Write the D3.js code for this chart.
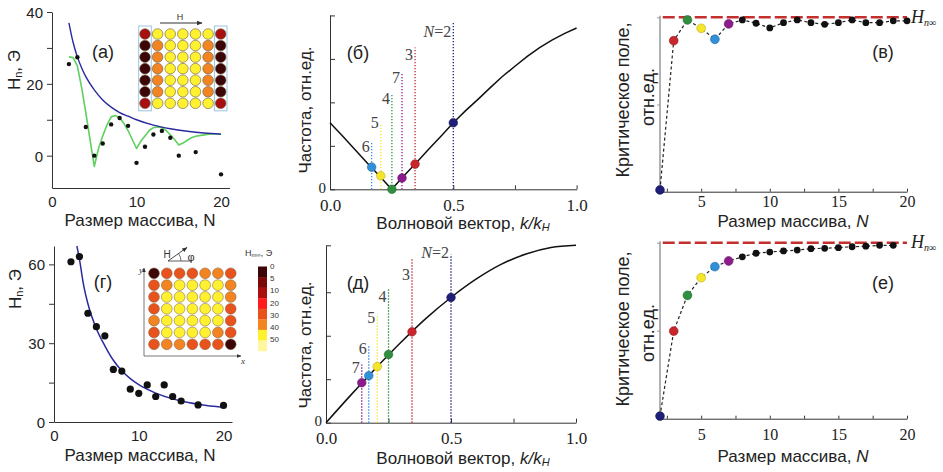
<!DOCTYPE html>
<html><head><meta charset="utf-8">
<script src="https://cdn.jsdelivr.net/npm/d3@7"></script>
<style>body{margin:0;background:#fff} svg{display:block}</style>
</head><body><svg id="c" width="943" height="472"></svg>
<script>
// ---------- DATA ----------
// (a) square array, field along x
const sizesA = [2,3,4,5,6,7,8,9,10,11,12,13,14,15,17,20];
const hnA    = [25.5,27.4,8.0,0,3.4,8.7,10.5,8.3,-2,2.5,5.9,6.9,5,0,1,-5.2];
const fitAN  = [2,2.5,3,3.5,4,5,6,7,8,9,10,12,14,16,18,20];
const fitAH  = [37,31.5,27.5,24.5,22,18.3,15.5,13.5,12,11,10,8.5,7.5,6.8,6.3,6.0];
const simAN  = [2,2.5,3,3.5,4,4.5,5,5.5,6,6.5,7,7.5,8,8.5,9,9.5,10,10.5,11,11.5,12,12.5,13,13.5,14,14.5,15,15.5,16,16.5,17,18,19,20];
const simAH  = [27.5,27.3,25,19,12,4.5,-3,2,5.5,8.5,10.8,11.2,10.5,9,7,4.5,2,4,5.5,7,7.8,8,7.8,7,5.8,4.5,3,3.5,4.3,5,5.4,5.8,6.1,6];
// (г) square array, field along diagonal
const sizesG = [2,3,4,5,6,7,8,9,10,11,12,13,14,15,17,20];
const hnG    = [61,63,41.4,36.3,32.8,20,19.4,12.5,10.9,14.1,9.7,14.1,9.7,8,6.5,6.3];
const fitGN  = [2.7,3,3.5,4,5,6,7,8,9,10,12,14,16,18,20];
const fitGH  = [67,62,52,45,35.5,29,23.5,19.5,16.5,14.2,11,8.8,7.3,6.3,5.6];
// inset colour maps (H_m∞, Э), rows top→bottom
const gridA = [
  [7,45,45,45,45,45,7],
  [0,35,45,45,45,35,0],
  [0,35,45,45,45,35,0],
  [0,35,45,45,45,35,0],
  [0,35,45,45,45,35,0],
  [0,35,45,45,45,35,0],
  [7,45,45,45,45,45,7]];
const gridG = [
  [0,25,25,25,35,35,25],
  [25,35,45,45,45,45,35],
  [25,45,45,45,45,45,35],
  [25,45,45,45,45,45,25],
  [35,45,45,45,45,45,25],
  [25,45,45,45,45,35,25],
  [25,35,35,25,25,25,0]];
const hmThresholds = [2.5,5,10,20,30,40,50];
const hmColors = ["#3d0606","#7a0a0a","#a81010","#ff1c1c","#e8521c","#f28422","#fff030","#fff7a0"];
const hmTickLabels = ["0","5","10","20","30","40","50"];
// (б) dispersion, field along x
const kB = [0,0.05,0.1,0.15,0.2,0.25,0.3,0.35,0.4,0.45,0.5,0.55,0.6,0.65,0.7,0.75,0.8,0.85,0.9,0.95,1.0];
const wB = [1.53,1.23,0.92,0.61,0.31,0,0.31,0.61,0.92,1.22,1.53,1.81,2.07,2.34,2.6,2.83,3.06,3.26,3.43,3.58,3.71];
// (д) dispersion, diagonal field
const kD = [0,0.1,0.2,0.3,0.4,0.5,0.6,0.7,0.8,0.9,1.0];
const wD = [0,0.64,1.26,1.85,2.40,2.88,3.30,3.64,3.88,4.03,4.08];
// modes N = 2..7
const modeN      = ["N=2","3","4","5","6","7"];
const modeColors = ["#1f1f78","#c8262c","#2f8f3f","#f5e62a","#3090d8","#8c1c8c"];
const kModesB = [0.5,0.345,0.251,0.206,0.169,0.292];
const wModesB = [1.53,0.58,0,0.31,0.51,0.26];
const topModesB = [3.83,3.26,2.19,1.49,1.1,2.68];
const kModesD = [0.5,0.344,0.25,0.205,0.171,0.143];
const wModesD = [2.88,2.09,1.57,1.29,1.08,0.92];
const topModesD = [3.87,3.76,3.07,2.49,1.76,1.34];
// (в), (е) critical field
const critNB = [2,3,4,5,6,7,8,9,10,11,12,13,14,15,16,17,18,19,20];
const critB  = [0.01,0.866,0.985,0.937,0.874,0.962,0.985,0.966,0.939,0.969,0.985,0.969,0.96,0.969,0.985,0.969,0.969,0.98,0.98];
const critNE = [2,3,4,5,6,7,8,9,10,11,12,13,14,15,16,17,18,19];
const critE  = [0.015,0.498,0.701,0.801,0.864,0.896,0.92,0.94,0.947,0.953,0.958,0.966,0.968,0.972,0.977,0.98,0.985,0.985];

// ---------- DRAWING ----------
const svg = d3.select("#c");
const SANS = "'Liberation Sans', Arial, sans-serif";
const SERIF = "'Liberation Serif', 'Times New Roman', serif";
const defs = svg.append("defs");
defs.append("marker").attr("id","arr").attr("viewBox","0 0 10 10").attr("refX",9).attr("refY",5)
  .attr("markerWidth",6).attr("markerHeight",6).attr("orient","auto")
  .append("path").attr("d","M0,1L10,5L0,9Z").attr("fill","#333");

function pathOf(x,y,X,Y,curve){
  return d3.line().x((d,i)=>x(X[i])).y((d,i)=>y(Y[i])).curve(curve||d3.curveMonotoneX)(X);
}
function styleAxis(g, o){
  g.select(".domain").attr("stroke", o.domain||"#333").attr("stroke-width", o.dw||1);
  g.selectAll(".tick line").attr("stroke", o.tick||"#333");
  g.selectAll("text").attr("font-family", o.font).attr("font-size", o.size).attr("fill","#222");
}
function rotTitle(x,y,size){
  return svg.append("text").attr("transform",`translate(${x},${y}) rotate(-90)`)
    .attr("text-anchor","middle").attr("dominant-baseline","central")
    .attr("font-family",SANS).attr("font-size",size).attr("fill","#222");
}
function label(x,y,t){
  svg.append("text").attr("x",x).attr("y",y).attr("text-anchor","middle").attr("dominant-baseline","central")
    .attr("font-family",SANS).attr("font-size",18).attr("fill","#222").text(t);
}

const hmScale = d3.scaleThreshold().domain(hmThresholds).range(hmColors);

// ======= Panel (a) / (г): experimental Hn vs N =======
function hnPanel(o){
  const x = d3.scaleLinear([0,21],[o.x0,o.x1]);
  const y = d3.scaleLinear(o.ydom,[o.yb,o.yt]);
  const gy = svg.append("g").attr("transform",`translate(${o.x0},0)`)
    .call(d3.axisLeft(y).tickValues(o.yticks).tickSize(5).tickSizeOuter(0).tickPadding(4)
      .tickFormat(d=> o.ylabels.includes(d)? d : ""));
  styleAxis(gy,{font:SANS,size:15});
  gy.selectAll("text").attr("dy","0.36em");
  const gx = svg.append("g").attr("transform",`translate(0,${o.yb})`)
    .call(d3.axisBottom(x).tickValues([0,10,20]).tickSize(0).tickSizeOuter(0));
  styleAxis(gx,{font:SANS,size:15});
  gx.selectAll("text").attr("y",13.5).attr("dy","0.36em");
  return {x,y};
}

// (a)
{
  const o = {x0:52,x1:229.5,yb:188,yt:12,ydom:[-9,40],yticks:[0,10,20,30,40],ylabels:[0,20,40]};
  const {x,y} = hnPanel(o);
  svg.append("path").attr("d",pathOf(x,y,simAN,simAH,d3.curveLinear)).attr("fill","none")
    .attr("stroke","#5fd05f").attr("stroke-width",1.6).attr("stroke-linejoin","round");
  svg.append("path").attr("d",pathOf(x,y,fitAN,fitAH,d3.curveMonotoneX)).attr("fill","none")
    .attr("stroke","#2a2a9e").attr("stroke-width",1.4);
  svg.append("g").selectAll("circle").data(sizesA).join("circle")
    .attr("cx",d=>x(d)).attr("cy",(d,i)=>y(hnA[i])).attr("r",2.2).attr("fill","#111");
  label(103,52,"(a)");
  svg.append("text").attr("x",140).attr("y",220.5).attr("text-anchor","middle").attr("dominant-baseline","central")
    .attr("font-family",SANS).attr("font-size",17).attr("fill","#222").text("Размер массива, N");
  const t = rotTitle(14,70,17);
  t.append("tspan").text("H");
  t.append("tspan").attr("font-size",11).attr("dy",4).text("n");
  t.append("tspan").attr("dy",-4).text(", Э");
  // inset
  const cx = d3.scaleLinear([0,6],[145,220.7]);
  const cy = d3.scaleLinear([0,6],[34,103.3]);
  [0,6].forEach(c=>{
    svg.append("rect").attr("x",cx(c)-6.3).attr("y",cy(0)-8).attr("width",12.6).attr("height",cy(6)-cy(0)+15.5)
      .attr("fill","none").attr("stroke","#9cc4de").attr("stroke-width",1);
  });
  gridA.forEach((row,r)=>row.forEach((v,c)=>{
    svg.append("circle").attr("cx",cx(c)).attr("cy",cy(r)).attr("r",5.3)
      .attr("fill",hmScale(v)).attr("stroke","#6a5a40").attr("stroke-width",0.6);
  }));
  svg.append("line").attr("x1",160).attr("y1",23).attr("x2",202).attr("y2",23)
    .attr("stroke","#333").attr("stroke-width",1).attr("marker-end","url(#arr)");
  svg.append("text").attr("x",180).attr("y",17).attr("text-anchor","middle").attr("dominant-baseline","central")
    .attr("font-family",SANS).attr("font-size",9).attr("fill","#333").text("H");
}

// (г)
{
  const o = {x0:54,x1:232,yb:422,yt:246,ydom:[0,67],yticks:[0,15,30,45,60],ylabels:[0,30,60]};
  const {x,y} = hnPanel(o);
  svg.append("path").attr("d",pathOf(x,y,fitGN,fitGH,d3.curveMonotoneX)).attr("fill","none")
    .attr("stroke","#2a2aa0").attr("stroke-width",1.5);
  svg.append("g").selectAll("circle").data(sizesG).join("circle")
    .attr("cx",d=>x(d)).attr("cy",(d,i)=>y(hnG[i])).attr("r",3.6).attr("fill","#111");
  label(103,282,"(г)");
  svg.append("text").attr("x",140).attr("y",455.5).attr("text-anchor","middle").attr("dominant-baseline","central")
    .attr("font-family",SANS).attr("font-size",17).attr("fill","#222").text("Размер массива, N");
  const t = rotTitle(15,289,17);
  t.append("tspan").text("H");
  t.append("tspan").attr("font-size",11).attr("dy",4).text("n");
  t.append("tspan").attr("dy",-4).text(", Э");
  // inset grid
  const cx = d3.scaleLinear([0,6],[154,230.7]);
  const cy = d3.scaleLinear([0,6],[273.3,344.3]);
  gridG.forEach((row,r)=>row.forEach((v,c)=>{
    svg.append("circle").attr("cx",cx(c)).attr("cy",cy(r)).attr("r",5.4)
      .attr("fill",hmScale(v)).attr("stroke","#7a5a3a").attr("stroke-width",0.5);
  }));
  // inset axes
  svg.append("line").attr("x1",144).attr("y1",356).attr("x2",144).attr("y2",268)
    .attr("stroke","#555").attr("stroke-width",0.8).attr("marker-end","url(#arr)");
  svg.append("line").attr("x1",144).attr("y1",356).attr("x2",241).attr("y2",356)
    .attr("stroke","#555").attr("stroke-width",0.8).attr("marker-end","url(#arr)");
  svg.append("text").attr("x",139).attr("y",273).attr("font-family",SERIF).attr("font-style","italic")
    .attr("font-size",9).attr("fill","#333").text("y");
  svg.append("text").attr("x",241).attr("y",364).attr("font-family",SERIF).attr("font-style","italic")
    .attr("font-size",9).attr("fill","#333").text("x");
  // field arrow and angle
  svg.append("line").attr("x1",168).attr("y1",261).attr("x2",192).attr("y2",261).attr("stroke","#333").attr("stroke-width",0.8);
  svg.append("line").attr("x1",168).attr("y1",261).attr("x2",187).attr("y2",247.5)
    .attr("stroke","#333").attr("stroke-width",0.9).attr("marker-end","url(#arr)");
  svg.append("path").attr("d","M181,261 A13,13 0 0 0 178.6,253.6").attr("fill","none").attr("stroke","#333").attr("stroke-width",0.7);
  svg.append("text").attr("x",167).attr("y",254).attr("text-anchor","middle").attr("dominant-baseline","central")
    .attr("font-family",SANS).attr("font-size",10).attr("fill","#333").text("H");
  svg.append("text").attr("x",191).attr("y",257).attr("text-anchor","middle").attr("dominant-baseline","central")
    .attr("font-family",SANS).attr("font-size",11).attr("fill","#333").text("φ");
  // colour bar
  const band = d3.scaleBand().domain(d3.range(hmColors.length)).range([266.5,351]);
  svg.append("g").selectAll("rect").data(hmColors).join("rect")
    .attr("x",258).attr("y",(d,i)=>band(i)).attr("width",9).attr("height",band.bandwidth()+0.3).attr("fill",d=>d);
  const lab = d3.scalePoint().domain(hmTickLabels).range([266.7,339.3]);
  svg.append("g").selectAll("text").data(hmTickLabels).join("text")
    .attr("x",270).attr("y",d=>lab(d)).attr("dominant-baseline","central")
    .attr("font-family",SANS).attr("font-size",8).attr("fill","#333").text(d=>d);
  const ct = svg.append("text").attr("x",245).attr("y",253).attr("dominant-baseline","central")
    .attr("font-family",SANS).attr("font-size",9).attr("fill","#333");
  ct.append("tspan").text("H");
  ct.append("tspan").attr("font-size",6).attr("dy",2).text("m∞");
  ct.append("tspan").attr("dy",-2).text(", Э");
}

// ======= dispersion panels (б), (д) =======
function dispPanel(o){
  const x = d3.scaleLinear([0,1],[o.x0,o.x1]);
  const y = d3.scaleLinear([0,o.ymax],[o.yb,o.yt]);
  const gy = svg.append("g").attr("transform",`translate(${o.x0},0)`)
    .call(d3.axisLeft(y).tickValues(o.yticks).tickSizeInner(-5).tickSizeOuter(0).tickPadding(4)
      .tickFormat(d=> d===0? "0" : ""));
  styleAxis(gy,{font:SERIF,size:15});
  gy.selectAll("text").attr("dy","0.2em");
  const gx = svg.append("g").attr("transform",`translate(0,${o.yb})`)
    .call(d3.axisBottom(x).tickValues([0,0.25,0.5,0.75,1]).tickSizeInner(-4).tickSizeOuter(0)
      .tickFormat(d=> (d===0||d===0.5||d===1)? d3.format(".1f")(d) : ""));
  styleAxis(gx,{font:SERIF,size:17});
  gx.selectAll("text").attr("y",o.tickY-o.yb).attr("dy","0.36em");
  // curve
  svg.append("path").attr("d",pathOf(x,y,o.k,o.w,o.curve)).attr("fill","none")
    .attr("stroke","#111").attr("stroke-width",1.5);
  // mode dotted lines
  const g = svg.append("g");
  modeN.forEach((n,i)=>{
    const xx = x(o.km[i]);
    g.append("line").attr("x1",xx).attr("x2",xx).attr("y1",o.yb).attr("y2",y(o.top[i]))
      .attr("stroke",modeColors[i]).attr("stroke-width",1.3).attr("stroke-dasharray","1.4,1.6");
    const tx = g.append("text").attr("x",xx-2).attr("y",y(o.top[i])+o.ldy[i]).attr("text-anchor","end")
      .attr("dominant-baseline","central").attr("font-family",SERIF).attr("font-size",16).attr("fill","#444");
    if(n.startsWith("N")){ tx.append("tspan").attr("font-style","italic").text("N"); tx.append("tspan").text("=2"); }
    else tx.text(n);
  });
  modeN.forEach((n,i)=>{
    g.append("circle").attr("cx",x(o.km[i])).attr("cy",y(o.wm[i])).attr("r",4.3)
      .attr("fill",modeColors[i]).attr("stroke",d3.color(modeColors[i]).darker(0.8)).attr("stroke-width",0.6);
  });
  svg.append("text").attr("x",463).attr("y",o.titleY).attr("text-anchor","middle").attr("dominant-baseline","central")
    .attr("font-family",SANS).attr("font-size",17).attr("fill","#222")
    .call(t=>{ t.append("tspan").text("Волновой вектор, ");
      t.append("tspan").attr("font-style","italic").text("k/k");
      t.append("tspan").attr("font-style","italic").attr("font-size",11).attr("dy",4).text("H"); });
  rotTitle(305,o.ytitleY,17).text("Частота, отн.ед.");
}
dispPanel({x0:330,x1:576.6,yb:189.3,yt:15,ymax:4.01,yticks:[0,1,2,3,4],tickY:205,titleY:223,ytitleY:110,
  k:kB,w:wB,curve:d3.curveLinear,km:kModesB,wm:wModesB,top:topModesB,ldy:[8,7,4,-2,5,5]});
label(358,53,"(б)");
dispPanel({x0:326,x1:576,yb:422.7,yt:245.3,ymax:4.08,yticks:[0,1,2,3,4.08],tickY:438,titleY:458,ytitleY:345,
  k:kD,w:wD,curve:d3.curveMonotoneX,km:kModesD,wm:wModesD,top:topModesD,ldy:[-2,15,7,3,2,3]});
label(358,283,"(д)");

// ======= critical field panels (в), (е) =======
function critPanel(o){
  const x = d3.scaleLinear([2,20],[660,907]);
  const y = d3.scaleLinear([0,1],[o.yb,o.yt]);
  const gy = svg.append("g").attr("transform","translate(660,0)")
    .call(d3.axisLeft(y).tickValues([0.5,1]).tickSize(3).tickSizeOuter(0).tickFormat(""));
  styleAxis(gy,{font:SERIF,size:18,domain:"#999",tick:"#999",dw:1.5});
  gy.select(".domain").attr("d",`M0,${o.yb}V${o.yt-1.5}`);
  const gx = svg.append("g").attr("transform",`translate(0,${o.yb})`)
    .call(d3.axisBottom(x).tickValues([2.5,5,7.5,10,12.5,15,17.5,20]).tickSizeInner(-3).tickSizeOuter(0)
      .tickFormat(d=> d%5===0? d : ""));
  styleAxis(gx,{font:SERIF,size:16});
  gx.selectAll("text").attr("y",o.tickY-o.yb).attr("dy","0.36em");
  // H_n∞ reference
  svg.append("line").attr("x1",x(2.2)).attr("x2",x(20)).attr("y1",y(1)).attr("y2",y(1))
    .attr("stroke","#c23030").attr("stroke-width",2.6).attr("stroke-dasharray","12,4");
  const h = svg.append("text").attr("x",911).attr("y",y(1)+5.5).attr("font-family",SERIF).attr("font-style","italic")
    .attr("font-size",18).attr("fill","#222");
  h.append("tspan").text("H");
  h.append("tspan").attr("font-size",10).attr("dy",3).text("n∞");
  // connecting dashed line
  svg.append("path").attr("d",pathOf(x,y,o.n,o.v,d3.curveLinear)).attr("fill","none")
    .attr("stroke","#222").attr("stroke-width",1.2).attr("stroke-dasharray","3,2.5");
  svg.append("g").selectAll("circle").data(o.n).join("circle")
    .attr("cx",d=>x(d)).attr("cy",(d,i)=>y(o.v[i]))
    .attr("r",(d,i)=> i<modeColors.length? 4.4 : 3.4)
    .attr("fill",(d,i)=> i<modeColors.length? modeColors[i] : "#111")
    .attr("stroke",(d,i)=> i<modeColors.length? d3.color(modeColors[i]).darker(0.8) : "none").attr("stroke-width",0.6);
  svg.append("text").attr("x",793).attr("y",o.titleY).attr("text-anchor","middle").attr("dominant-baseline","central")
    .attr("font-family",SANS).attr("font-size",17).attr("fill","#222")
    .call(t=>{ t.append("tspan").text("Размер массива, "); t.append("tspan").attr("font-style","italic").text("N"); });
  rotTitle(623,o.yt1,18).text("Критическое поле,");
  rotTitle(648,o.yt2,18).text("отн.ед.");
  label(883,o.labY,o.lab);
}
critPanel({yb:191.7,yt:17.3,tickY:201,titleY:221,yt1:100,yt2:97,n:critNB,v:critB,lab:"(в)",labY:52});
critPanel({yb:418.7,yt:242.7,tickY:434,titleY:456,yt1:329,yt2:333,n:critNE,v:critE,lab:"(е)",labY:283});
</script></body></html>
